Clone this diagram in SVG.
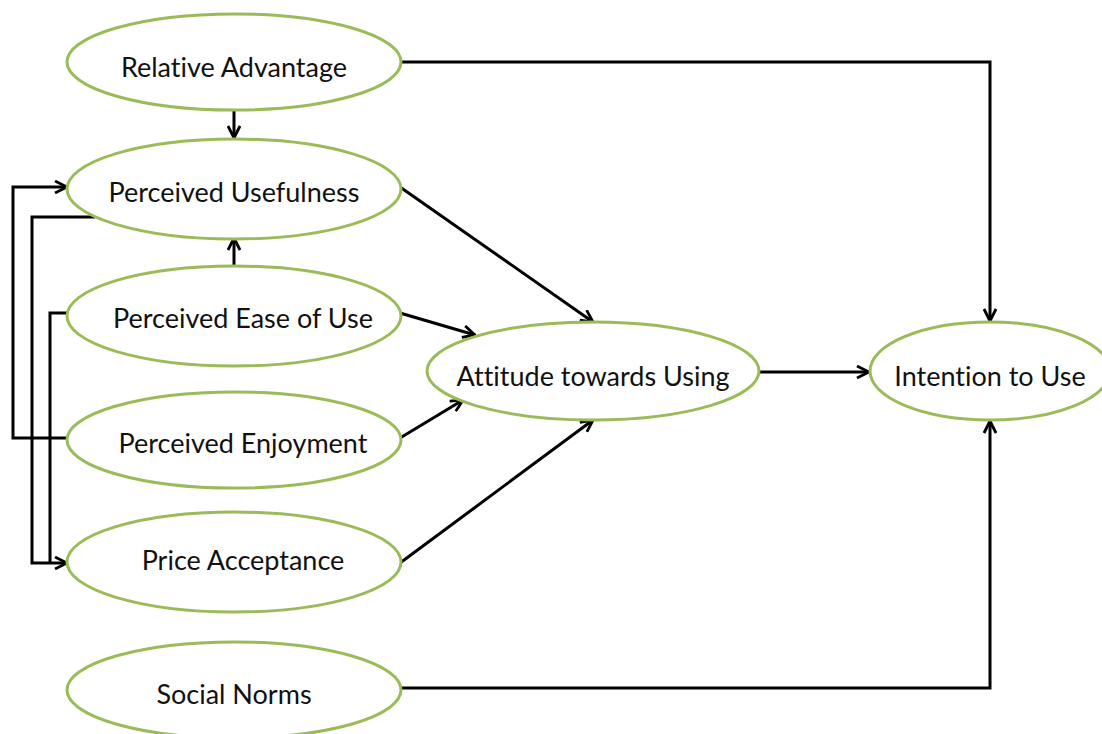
<svg xmlns="http://www.w3.org/2000/svg" width="1102" height="734" viewBox="0 0 1102 734">
<style>
.n{fill:#fff;stroke:#9BBB59;stroke-width:3}
.t{font-family:Lato,"Liberation Sans",sans-serif;font-size:27px;fill:#111;text-anchor:middle;font-variant-ligatures:none}
.c{fill:none;stroke:#000;stroke-width:3}
</style>
<defs>
<marker id="a" viewBox="0 0 14 14" refX="13" refY="7" markerWidth="14" markerHeight="14" markerUnits="userSpaceOnUse" orient="auto">
<polyline points="1,1 13,7 1,13" fill="none" stroke="#000" stroke-width="2.8"/>
</marker>
</defs>
<rect width="1102" height="734" fill="#fff"/>
<g id="connectors">
<polyline class="c" points="68,438 13,438 13,187 67,187" marker-end="url(#a)"/>
<polyline class="c" points="95,217 32,217 32,563 67,563" marker-end="url(#a)"/>
<polyline class="c" points="68,313 50,313 50,563"/>
<line class="c" x1="234" y1="110" x2="234" y2="138" marker-end="url(#a)"/>
<line class="c" x1="234" y1="266" x2="234" y2="238" marker-end="url(#a)"/>
<line class="c" x1="400" y1="187" x2="593" y2="322" marker-end="url(#a)"/>
<line class="c" x1="400" y1="313" x2="475" y2="335" marker-end="url(#a)"/>
<line class="c" x1="400" y1="438" x2="463" y2="400" marker-end="url(#a)"/>
<line class="c" x1="400" y1="563" x2="593" y2="420" marker-end="url(#a)"/>
<line class="c" x1="760" y1="372" x2="869" y2="372" marker-end="url(#a)"/>
<polyline class="c" points="400,62 990,62 990,321" marker-end="url(#a)"/>
<polyline class="c" points="400,688 990,688 990,421" marker-end="url(#a)"/>
</g>
<g id="relative-advantage"><ellipse class="n" cx="234" cy="62" rx="167" ry="48"/><text class="t" x="234" y="77">Relative Advantage</text></g>
<g id="perceived-usefulness"><ellipse class="n" cx="234" cy="189" rx="167" ry="50"/><text class="t" x="234" y="202">Perceived Usefulness</text></g>
<g id="perceived-ease"><ellipse class="n" cx="234" cy="316" rx="167" ry="50"/><text class="t" x="243" y="328">Perceived Ease of Use</text></g>
<g id="perceived-enjoyment"><ellipse class="n" cx="234" cy="440" rx="167" ry="48"/><text class="t" x="243" y="453">Perceived Enjoyment</text></g>
<g id="price-acceptance"><ellipse class="n" cx="234" cy="562" rx="167" ry="50"/><text class="t" x="243" y="570">Price Acceptance</text></g>
<g id="social-norms"><ellipse class="n" cx="234" cy="690" rx="167" ry="48"/><text class="t" x="234" y="704">Social Norms</text></g>
<g id="attitude"><ellipse class="n" cx="593" cy="371" rx="166" ry="49"/><text class="t" x="593" y="386">Attitude towards Using</text></g>
<g id="intention"><ellipse class="n" cx="990" cy="371" rx="120" ry="49"/><text class="t" x="990" y="386">Intention to Use</text></g>
</svg>
